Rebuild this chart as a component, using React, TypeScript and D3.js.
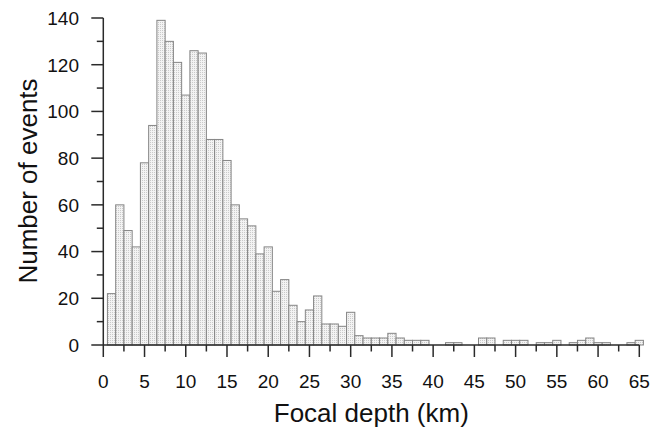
import React from "react";
import * as d3 from "d3";

// focal depth bins (km, bar centres) and number of events per bin
const depthKm = [
  1, 2, 3, 4, 5, 6, 7, 8, 9, 10, 11, 12, 13, 14, 15, 16, 17, 18, 19, 20,
  21, 22, 23, 24, 25, 26, 27, 28, 29, 30, 31, 32, 33, 34, 35, 36, 37, 38, 39, 40,
  41, 42, 43, 44, 45, 46, 47, 48, 49, 50, 51, 52, 53, 54, 55, 56, 57, 58, 59, 60,
  61, 62, 63, 64, 65,
];
const events = [
  22, 60, 49, 42, 78, 94, 139, 130, 121, 107, 126, 125, 88, 88, 79, 60, 54, 51, 39, 42,
  23, 28, 17, 10, 15, 21, 9, 9, 8, 14, 4, 3, 3, 3, 5, 3, 2, 2, 2, 0,
  0, 1, 1, 0, 0, 3, 3, 0, 2, 2, 2, 0, 1, 1, 2, 0, 1, 2, 3, 1,
  1, 0, 0, 1, 2,
];

const xMajorTicks = [0, 5, 10, 15, 20, 25, 30, 35, 40, 45, 50, 55, 60, 65];
const xMinorTicks = [2.5, 7.5, 12.5, 17.5, 22.5, 27.5, 32.5, 37.5, 42.5, 47.5, 52.5, 57.5, 62.5];
const yMajorTicks = [0, 20, 40, 60, 80, 100, 120, 140];
const yMinorTicks = [10, 30, 50, 70, 90, 110, 130];

const xLabel = "Focal depth (km)";
const yLabel = "Number of events";

const W = 653;
const H = 435;
const FONT = "'Liberation Sans', Arial, sans-serif";
const AXIS = "#2a2a2a";

export default function App() {
  const x = d3.scaleLinear().domain([0, 65]).range([103.3, 639.3]);
  const y = d3.scaleLinear().domain([0, 140]).range([345, 18]);
  const bw = x(1) - x(0);

  return (
    <div style={{ position: "absolute", left: 0, top: 0 }}>
      <svg width={W} height={H} style={{ display: "block", background: "#fff" }}>
        <defs>
          <pattern id="stipple" width="2" height="2" patternUnits="userSpaceOnUse">
            <rect width="2" height="2" fill="#f3f3f3" />
            <rect width="1" height="1" fill="#cacaca" />
          </pattern>
        </defs>

        {/* bars */}
        <g>
          {depthKm.map((d, i) =>
            events[i] > 0 ? (
              <rect
                key={d}
                x={x(d) - bw / 2}
                y={y(events[i])}
                width={bw}
                height={y(0) - y(events[i])}
                fill="url(#stipple)"
                stroke="#858585"
                strokeWidth={1}
              />
            ) : null
          )}
        </g>

        {/* x axis */}
        <g stroke={AXIS} strokeWidth={1.5}>
          <line x1={x(0)} x2={x(65)} y1={y(0)} y2={y(0)} />
          {xMajorTicks.map((t) => (
            <line key={t} x1={x(t)} x2={x(t)} y1={y(0)} y2={y(0) + 12} />
          ))}
          {xMinorTicks.map((t) => (
            <line key={t} x1={x(t)} x2={x(t)} y1={y(0)} y2={y(0) + 6.5} />
          ))}
        </g>
        {xMajorTicks.map((t) => (
          <text
            key={t}
            x={x(t)}
            y={388}
            textAnchor="middle"
            fontFamily={FONT}
            fontSize={19}
            fill="#111"
          >
            {t}
          </text>
        ))}

        {/* y axis */}
        <g stroke={AXIS} strokeWidth={1.5}>
          <line x1={x(0)} x2={x(0)} y1={y(0)} y2={y(140)} />
          {yMajorTicks.map((t) => (
            <line key={t} x1={x(0) - 12} x2={x(0)} y1={y(t)} y2={y(t)} />
          ))}
          {yMinorTicks.map((t) => (
            <line key={t} x1={x(0) - 6.5} x2={x(0)} y1={y(t)} y2={y(t)} />
          ))}
        </g>
        {yMajorTicks.map((t) => (
          <text
            key={t}
            x={79}
            y={y(t)}
            dy="0.36em"
            textAnchor="end"
            fontFamily={FONT}
            fontSize={19}
            fill="#111"
          >
            {t}
          </text>
        ))}

        {/* axis titles */}
        <text
          x={(x(0) + x(65)) / 2}
          y={422}
          textAnchor="middle"
          fontFamily={FONT}
          fontSize={26}
          fill="#111"
        >
          {xLabel}
        </text>
        <text
          transform={`translate(37,181) rotate(-90)`}
          textAnchor="middle"
          fontFamily={FONT}
          fontSize={26}
          fill="#111"
        >
          {yLabel}
        </text>
      </svg>
    </div>
  );
}
